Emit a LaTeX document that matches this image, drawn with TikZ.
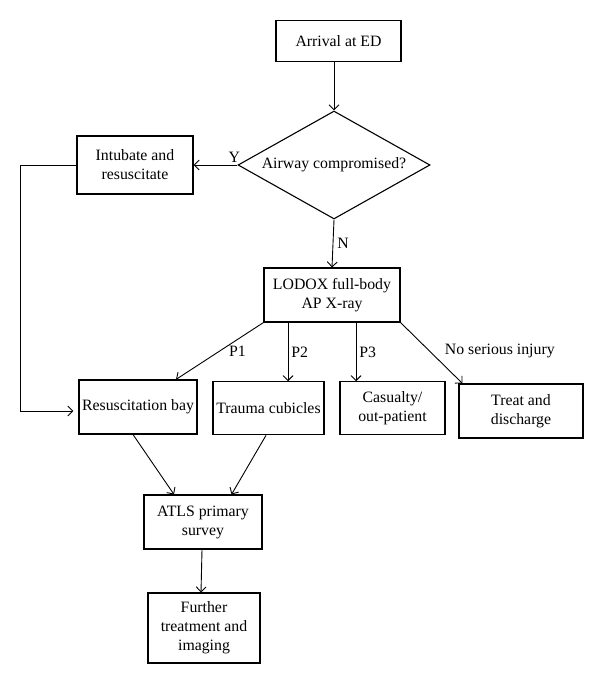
\documentclass[tikz,border=0pt]{standalone}
\usepackage{fontspec}
\setmainfont{Liberation Serif}
\usetikzlibrary{shapes.geometric,arrows.meta}

\begin{document}
\begin{tikzpicture}[
        x=1pt, y=-1pt,
        font=\fontsize{15.8}{19}\selectfont,
        >={Straight Barb[length=5pt,width=10pt]},
        line/.style={draw, line width=0.9pt, ->},
        box/.style={draw, line width=1.1pt, align=center, inner sep=2pt},
        decision/.style={draw, line width=1.1pt, diamond, inner sep=0pt,
            shape aspect=1.78, minimum width=192pt, minimum height=108pt},
        lbl/.style={inner sep=1pt}
    ]
    \useasboundingbox (0,0) rectangle (600,684);
    \node[box, minimum width=125pt, minimum height=41pt] (arrival) at (338.5,40.7) {Arrival at ED};
    \node[decision] (airway) at (334,165) {Airway compromised?};
    \node[box, minimum width=116pt, minimum height=58pt] (intubate) at (135,165) {Intubate and\\resuscitate};
    \node[box, minimum width=136pt, minimum height=54pt] (lodox) at (332,295) {LODOX full-body\\AP X-ray};
    \node[box, minimum width=118pt, minimum height=54pt] (resus) at (138,407) {Resuscitation bay};
    \node[box, minimum width=111pt, minimum height=53pt] (trauma) at (268.5,408.3) {Trauma cubicles};
    \node[box, minimum width=105pt, minimum height=53pt] (casualty) at (392.5,408.3) {Casualty/\\out-patient};
    \node[box, minimum width=124pt, minimum height=54pt] (treat) at (521,411) {Treat and\\discharge};
    \node[box, minimum width=118pt, minimum height=54pt] (atls) at (203,522) {ATLS primary\\survey};
    \node[box, minimum width=112pt, minimum height=70pt] (further) at (204,628) {Further\\treatment and\\imaging};
    \coordinate (loop) at (20,165);

    \draw[line] ([xshift=-4.5pt]arrival.south) -- (airway.north);
    \draw[line] (airway.west) -- node[lbl, pos=0, anchor=south, xshift=-3pt, yshift=1pt] {Y} (intubate.east);
    \draw[line, shorten >=5pt] (intubate.west) -- (loop) |- ([yshift=-4pt]resus.west);
    \draw[line] (airway.south) -- node[lbl, right, xshift=3pt] {N} (lodox.north);
    \draw[line] (lodox.south west) -- node[lbl, anchor=west, xshift=8pt] {P1} ([xshift=38pt]resus.north);
    \draw[line] ([xshift=-44pt]lodox.south) -- node[lbl, anchor=west, xshift=2pt] {P2} ([xshift=-44pt]lodox.south |- trauma.north);
    \draw[line] ([xshift=24pt]lodox.south) -- node[lbl, anchor=west, xshift=2pt] {P3} ([xshift=24pt]lodox.south |- casualty.north);
    \draw[line] (lodox.south east) -- node[lbl, anchor=west, xshift=12pt, yshift=2pt] {No serious injury} ([xshift=4pt]treat.north west);
    \draw[line] ([xshift=-5pt]resus.south) -- ([xshift=-29pt]atls.north);
    \draw[line] ([xshift=-2.5pt]trauma.south) -- ([xshift=28.5pt]atls.north);
    \draw[line] ([xshift=-1pt]atls.south) -- ([xshift=-3pt]further.north);
\end{tikzpicture}
\end{document}
